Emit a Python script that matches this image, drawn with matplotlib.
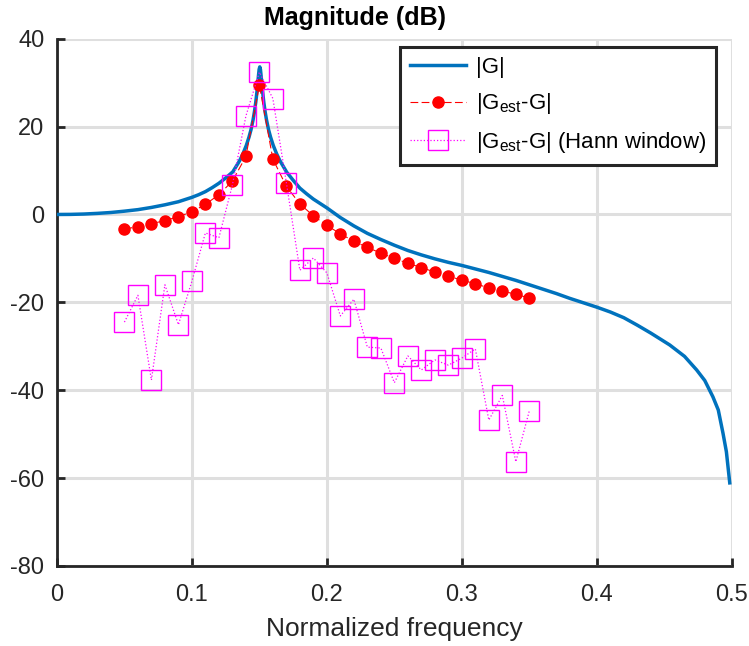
import matplotlib
matplotlib.use("Agg")
import matplotlib.pyplot as plt

# ---- data ----
g_freq = [0.0, 0.01, 0.02, 0.03, 0.04, 0.05, 0.06, 0.07, 0.08, 0.09, 0.10,
          0.105, 0.11, 0.115, 0.12, 0.125, 0.1303, 0.1353, 0.1378, 0.1403,
          0.1423, 0.1438, 0.1453, 0.1463, 0.1473, 0.1483, 0.1488, 0.1493,
          0.1498, 0.1503, 0.1508, 0.1513, 0.1518, 0.1523, 0.1533, 0.1543,
          0.1553, 0.1568, 0.1583, 0.1603, 0.1628, 0.1653, 0.1703, 0.175,
          0.18, 0.185, 0.19, 0.20, 0.21, 0.22, 0.23, 0.24, 0.25, 0.26, 0.27,
          0.28, 0.29, 0.30, 0.31, 0.32, 0.33, 0.34, 0.35, 0.36, 0.37, 0.38,
          0.39, 0.40, 0.41, 0.42, 0.43, 0.44, 0.454, 0.465, 0.474, 0.48,
          0.486, 0.49, 0.4935, 0.496, 0.4985]
g_db = [0.0, 0.02, 0.1, 0.25, 0.45, 0.75, 1.1, 1.6, 2.2, 2.9, 3.9,
        4.5, 5.2, 6.1, 7.1, 8.3, 9.7, 12.2, 13.8, 15.7,
        17.6, 19.3, 21.5, 23.3, 25.5, 28.2, 29.9, 31.5,
        33.0, 33.6, 33.0, 31.5, 29.9, 28.2, 25.5, 23.3,
        21.5, 19.3, 17.6, 15.7, 13.8, 12.2, 9.6, 7.8,
        6.0, 4.7, 3.5, 1.5, -0.7, -2.6, -4.3, -5.7, -7.0, -8.2, -9.2,
        -10.1, -10.9, -11.6, -12.4, -13.2, -14.1, -15.0, -16.0, -17.0, -18.0, -19.1,
        -20.1, -21.1, -22.2, -23.5, -25.2, -27.0, -29.7, -32.3, -35.4, -37.8,
        -41.5, -44.5, -49.8, -54.0, -61.1]

est_freq = [round(0.05 + 0.01 * i, 2) for i in range(31)]
est_db = [-3.3, -2.8, -2.1, -1.4, -0.5, 0.6, 2.3, 4.5, 7.6, 13.2, 29.4,
          12.6, 6.4, 2.4, -0.3, -2.5, -4.4, -6.1, -7.5, -8.8, -10.0,
          -11.1, -12.1, -13.1, -14.1, -14.9, -15.8, -16.7, -17.4, -18.2, -19.0]

hann_db = [-24.5, -18.4, -37.7, -16.0, -25.1, -15.2, -4.2, -5.3, 6.7, 22.4, 32.4,
           26.4, 7.2, -12.7, -9.9, -13.3, -23.1, -19.3, -30.2, -30.4, -38.3,
           -32.2, -35.4, -33.1, -34.3, -32.7, -30.6, -46.8, -41.2, -56.3, -44.7]

labels = ["|G|", "|G$_{\\mathrm{est}}$-G|", "|G$_{\\mathrm{est}}$-G| (Hann window)"]
xticks = [0, 0.1, 0.2, 0.3, 0.4, 0.5]
xtick_labels = ["0", "0.1", "0.2", "0.3", "0.4", "0.5"]
yticks = [-80, -60, -40, -20, 0, 20, 40]

# ---- style ----
plt.rcParams["font.family"] = ["Liberation Sans", "DejaVu Sans"]
plt.rcParams["axes.unicode_minus"] = False
plt.rcParams["mathtext.fontset"] = "custom"
plt.rcParams["mathtext.rm"] = "Liberation Sans"
plt.rcParams["mathtext.it"] = "Liberation Sans:italic"

TXT = "#262626"
fig = plt.figure(figsize=(7.49, 6.46), dpi=100)
ax = fig.add_axes([0.076, 0.124, 0.901, 0.816])

ax.plot(g_freq, g_db, color="#0072BD", lw=2.5, label=labels[0], zorder=3,
        solid_joinstyle="round")
ax.plot(est_freq, est_db, color="red", ls=(0, (7, 3)), lw=0.8, marker="o",
        ms=8, mfc="red", mec="red", label=labels[1], zorder=4)
ax.plot(est_freq, hann_db, color="#FF00FF", ls=":", lw=0.9, marker="s",
        ms=14, mfc="none", mec="#FF00FF", mew=1.0, label=labels[2], zorder=5)

ax.set_xlim(0, 0.5)
ax.set_ylim(-80, 40)
ax.set_xticks(xticks)
ax.set_xticklabels(xtick_labels)
ax.set_yticks(yticks)

ax.grid(True, color="#dfdfdf", lw=2.2)
ax.set_axisbelow(True)
for s in ["top", "right"]:
    ax.spines[s].set_visible(False)
for s in ["left", "bottom"]:
    ax.spines[s].set_linewidth(2.0)
    ax.spines[s].set_color(TXT)
ax.tick_params(direction="in", length=6, width=2, colors=TXT, labelsize=17)
ax.tick_params(axis="x", pad=13)
ax.tick_params(axis="y", pad=9)

ax.set_xlabel("Normalized frequency", fontsize=19, color=TXT, labelpad=8)
fig.text(355 / 749, 1 - 18 / 646, "Magnitude (dB)", fontsize=18,
         fontweight="bold", ha="center", va="center", color="black")

leg = ax.legend(loc="upper right", bbox_to_anchor=(0.977, 0.985), fontsize=16,
                frameon=True, fancybox=False, borderpad=0.45, labelspacing=0.62,
                handlelength=2.5, handletextpad=0.45, borderaxespad=0.0)
leg.get_frame().set_edgecolor(TXT)
leg.get_frame().set_linewidth(2.2)
leg.get_frame().set_alpha(1.0)

fig.savefig("out.png", dpi=100)
